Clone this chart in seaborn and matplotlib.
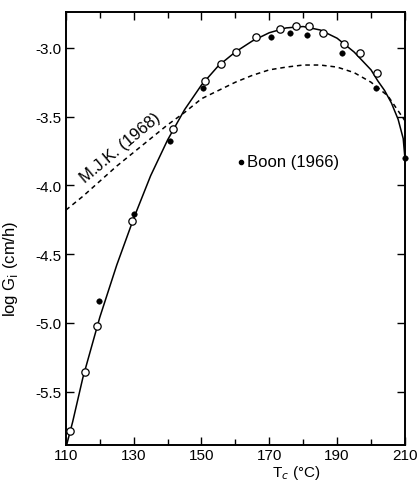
import numpy as np
import pandas as pd
import seaborn as sns
import matplotlib.pyplot as plt

# open circles (this work)
open_T = [111.2, 115.5, 119.2, 129.6, 141.7, 151.1, 155.8, 160.3, 166.2, 173.3,
          178.0, 181.7, 185.9, 191.9, 196.7, 201.7]
open_G = [-5.79, -5.36, -5.02, -4.26, -3.59, -3.24, -3.12, -3.03, -2.92, -2.86,
          -2.84, -2.84, -2.89, -2.97, -3.04, -3.18]

# filled circles, Boon (1966)
boon_T = [119.7, 130.2, 140.6, 150.4, 170.6, 176.1, 181.2, 191.3, 201.4, 210.0]
boon_G = [-4.84, -4.21, -3.68, -3.29, -2.92, -2.89, -2.91, -3.04, -3.29, -3.80]

# solid curve
fit_T = [110.2, 112, 115, 120, 125, 130, 135, 140, 145, 150, 155, 160, 165, 170,
         175, 180, 185, 190, 195, 200, 202, 204, 206, 208, 209.5, 210]
fit_G = [-5.89, -5.72, -5.40, -4.96, -4.58, -4.24, -3.93, -3.67, -3.45, -3.27,
         -3.13, -3.03, -2.95, -2.89, -2.855, -2.845, -2.87, -2.93, -3.03, -3.16,
         -3.24, -3.31, -3.40, -3.52, -3.66, -3.80]

# dashed curve, M.J.K. (1968)
mjk_T = [110, 115, 120, 125, 130, 135, 140, 145, 150, 155, 160, 165, 170, 175,
         180, 185, 190, 195, 200, 205, 210]
mjk_G = [-4.18, -4.08, -3.97, -3.86, -3.76, -3.66, -3.56, -3.47, -3.37, -3.31,
         -3.25, -3.20, -3.16, -3.14, -3.125, -3.125, -3.14, -3.18, -3.25, -3.35,
         -3.53]

xticks = [110, 130, 150, 170, 190, 210]
xminor = [120, 140, 160, 180, 200]
yticks = [-3.0, -3.5, -4.0, -4.5, -5.0, -5.5]
ylabels = ['-3.0', '-3.5', '-4.0', '-4.5', '-5.0', '-5.5']

sns.set_style("ticks")
plt.rcParams['font.family'] = ['Liberation Sans', 'DejaVu Sans']
plt.rcParams['font.size'] = 11
for k in ['text.color', 'axes.labelcolor', 'xtick.color', 'ytick.color', 'axes.edgecolor']:
    plt.rcParams[k] = 'black'

fig = plt.figure(figsize=(4.17, 4.85), dpi=100)
ax = fig.add_axes([0.158, 0.08, 0.813, 0.893])

sns.lineplot(x=fit_T, y=fit_G, color='black', lw=1.1, estimator=None, sort=False, ax=ax)
sns.lineplot(x=mjk_T, y=mjk_G, color='black', lw=1.1, estimator=None, sort=False, ax=ax)
ax.lines[-1].set_dashes((3, 2.5))

sns.scatterplot(x=open_T, y=open_G, marker='o', s=28, facecolor='white',
                edgecolor='black', linewidth=0.9, ax=ax, zorder=3)
sns.scatterplot(x=boon_T, y=boon_G, marker='o', s=16, color='black',
                edgecolor='black', ax=ax, zorder=4, clip_on=False)

ax.set_xlim(110, 210)
ax.set_ylim(-5.89, -2.74)
ax.set_xticks(xticks)
ax.set_xticks(xminor, minor=True)
ax.set_yticks(yticks)
ax.set_yticklabels(ylabels)
ax.tick_params(which='both', direction='in', top=True, right=True, labelsize=11,
               width=1.0)
ax.tick_params(axis='x', pad=2)
ax.tick_params(which='major', length=6)
ax.tick_params(which='minor', length=4)
for sp in ax.spines.values():
    sp.set_linewidth(1.4)

ax.set_xlabel('T$_c$ (°C)', fontsize=11)
ax.xaxis.set_label_coords(0.68, -0.042)
ax.set_ylabel('log G$_\\mathrm{i}$ (cm/h)', fontsize=12)
ax.yaxis.set_label_coords(-0.135, 0.41)

ax.text(126, -3.72, 'M.J.K. (1968)', rotation=40, ha='center', va='center', fontsize=12)
ax.plot([161.6], [-3.83], 'o', color='black', ms=3)
ax.text(163.4, -3.83, 'Boon (1966)', ha='left', va='center', fontsize=12)

fig.savefig('out.png', dpi=100)
